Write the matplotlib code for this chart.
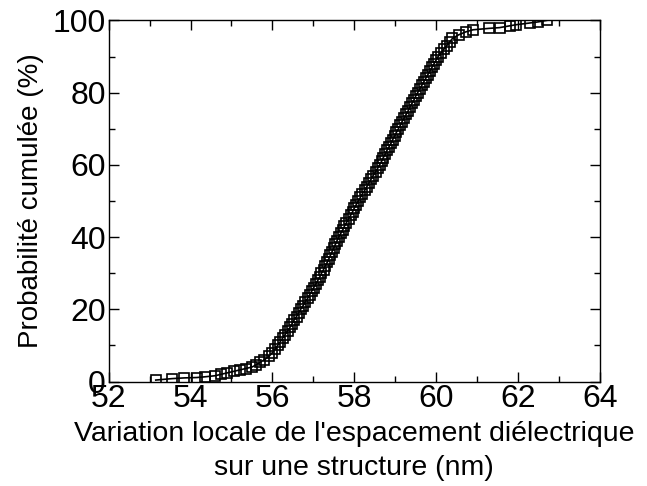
import matplotlib.pyplot as plt
from matplotlib.ticker import MultipleLocator

plt.rcParams['font.family'] = ['Liberation Sans', 'DejaVu Sans']

prob = [0.4, 0.8, 1.0, 1.1, 1.3, 1.6, 2.0, 2.4, 2.8, 3.2, 3.6, 4.0, 4.6, 5.3,
        6, 7, 8, 9, 10, 11, 12, 13, 14, 15, 16, 17, 18, 19, 20,
        21, 22, 23, 24, 25, 26, 27, 28, 29, 30, 31, 32, 33, 34, 35,
        36, 37, 38, 39, 40, 41, 42, 43, 44, 45, 46, 47, 48, 49, 50,
        51, 52, 53, 54, 55, 56, 57, 58, 59, 60, 61, 62, 63, 64, 65,
        66, 67, 68, 69, 70, 71, 72, 73, 74, 75, 76, 77, 78, 79, 80,
        81, 82, 83, 84, 85, 86, 87, 88, 89, 90, 91, 92, 93, 94, 95,
        96, 96.8, 97.4, 97.8, 98.0, 98.5, 98.8, 99.3, 99.6, 100]
spacing = [53.15, 53.55, 53.85, 54.15, 54.35, 54.6, 54.75, 54.9, 55.05, 55.2, 55.35, 55.5, 55.6, 55.7,
           55.8, 55.92, 56.0, 56.07, 56.13, 56.19, 56.25, 56.31, 56.37, 56.43, 56.48, 56.53, 56.59, 56.64, 56.69,
           56.75, 56.8, 56.86, 56.91, 56.96, 57.01, 57.06, 57.11, 57.16, 57.2, 57.25, 57.29, 57.34, 57.38, 57.42,
           57.46, 57.5, 57.54, 57.58, 57.62, 57.67, 57.72, 57.76, 57.81, 57.86, 57.91, 57.96, 58.0, 58.05, 58.1,
           58.15, 58.2, 58.26, 58.31, 58.36, 58.41, 58.46, 58.52, 58.57, 58.62, 58.67, 58.71, 58.76, 58.8, 58.85,
           58.9, 58.94, 58.99, 59.03, 59.08, 59.13, 59.17, 59.22, 59.27, 59.32, 59.36, 59.41, 59.46, 59.5, 59.55,
           59.6, 59.65, 59.7, 59.75, 59.8, 59.85, 59.9, 59.95, 60.0, 60.05, 60.12, 60.19, 60.26, 60.33, 60.4,
           60.55, 60.72, 60.9, 61.3, 61.55, 61.8, 61.95, 62.3, 62.5, 62.7]

fig = plt.figure(figsize=(6.47, 4.86), dpi=100)
ax = fig.add_axes([0.168, 0.215, 0.759, 0.743])

ax.plot(spacing, prob, color='black', linewidth=1.2, marker='s', markersize=7.5,
        markerfacecolor='none', markeredgecolor='black', markeredgewidth=1.2)

ax.set_xlim(52, 64)
ax.set_ylim(0, 100)
ax.xaxis.set_major_locator(MultipleLocator(2))
ax.xaxis.set_minor_locator(MultipleLocator(1))
ax.yaxis.set_major_locator(MultipleLocator(20))
ax.yaxis.set_minor_locator(MultipleLocator(10))
ax.tick_params(which='both', direction='in', top=True, right=True, labelsize=23, pad=2)
ax.tick_params(which='major', length=7, width=1)
ax.tick_params(which='minor', length=4, width=1)
for s in ax.spines.values():
    s.set_linewidth(1)

ax.set_xlabel("Variation locale de l'espacement diélectrique\nsur une structure (nm)",
              fontsize=20.5, linespacing=1.4, labelpad=5)
ax.set_ylabel('Probabilité cumulée (%)', fontsize=20, labelpad=6)

fig.savefig('out.png', dpi=100)
